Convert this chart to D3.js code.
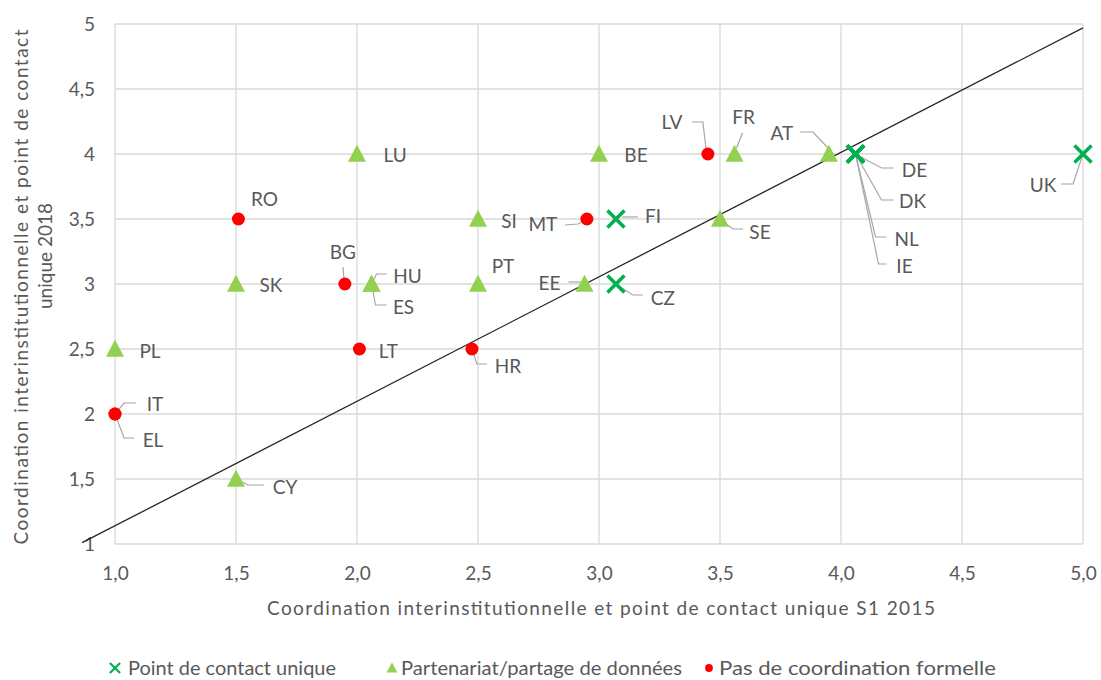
<!DOCTYPE html>
<html><head><meta charset="utf-8">
<script src="https://cdn.jsdelivr.net/npm/d3@7"></script>
<style>body{margin:0;background:#fff}svg{display:block}text{font-family:Lato,"Open Sans",sans-serif;fill:#595959}</style>
</head><body><svg id="c" width="1101" height="680"></svg>
<script>
// ---- data ----
const xTicks = [1.0,1.5,2.0,2.5,3.0,3.5,4.0,4.5,5.0];
const yTicks = [1,1.5,2,2.5,3,3.5,4,4.5,5];
const seriesNames = ["Point de contact unique","Partenariat/partage de données","Pas de coordination formelle"];
const contactCodes = ["FI","CZ","DE","DK","NL","IE","UK"];
const contactX     = [3.07,3.07,4.06,4.06,4.06,4.06,5.0];
const contactY     = [3.5,3.0,4.0,4.0,4.0,4.0,4.0];
const partnerCodes = ["LU","BE","FR","AT","SI","SE","SK","HU","ES","PT","EE","PL","CY"];
const partnerX     = [2.0,3.0,3.56,3.95,2.5,3.5,1.5,2.06,2.06,2.5,2.94,1.0,1.5];
const partnerY     = [4.0,4.0,4.0,4.0,3.5,3.5,3.0,3.0,3.0,3.0,3.0,2.5,1.5];
const noneCodes    = ["RO","BG","LT","HR","MT","LV","IT","EL"];
const noneX        = [1.51,1.95,2.01,2.475,2.95,3.45,1.0,1.0];
const noneY        = [3.5,3.0,2.5,2.5,3.5,4.0,2.0,2.0];
const trendX = [0.864,5.0];
const trendY = [1.01,4.97];
const xTitle = "Coordination interinstitutionnelle et point de contact unique S1 2015";
const yTitle = ["Coordination interinstitutionnelle et point de contact","unique 2018"];

// ---- layout (label offsets in px relative to marker) ----
const labelLayout = {
 LU:{d:[38,1]}, BE:{d:[37,1]}, SI:{d:[31,2]},
 MT:{d:[-44,5],l:[[-22,6],[-9,5],[-3,2]]},
 FI:{d:[37,-3],l:[[6,-2],[22,-2]]},
 CZ:{d:[47,14],l:[[0,0],[17,11],[27,11]]},
 EE:{d:[-35,-1],l:[[-16,-2],[-4,-2]]},
 SE:{d:[40,13],l:[[2,2],[13,10],[23,10]]},
 LV:{d:[-36,-32],l:[[-16,-32],[-5,-32],[-2,-6]]},
 FR:{d:[9,-37],l:[[8,-21],[2,-6]]},
 AT:{d:[-47,-21],l:[[-29,-22],[-16,-22],[0,-5]]},
 DE:{d:[59,16],l:[[0,0],[26,14],[38,14]]},
 DK:{d:[57,47],l:[[0,0],[26,46],[38,46]]},
 NL:{d:[51,85],l:[[0,0],[20,83],[31,83]]},
 IE:{d:[49,112],l:[[0,0],[23,110],[31,110]]},
 UK:{d:[-40,31],l:[[0,0],[-10,30],[-22,30]]},
 RO:{d:[26,-20]}, SK:{d:[35,1]},
 BG:{d:[-2,-32],l:[[-2,-17],[-1,-6]]},
 HU:{d:[36,-8],l:[[0,0],[5,-10],[15,-10]]},
 ES:{d:[32,23],l:[[0,0],[4,21],[15,21]]},
 PT:{d:[25,-18]}, PL:{d:[35,2]}, LT:{d:[29,2]},
 HR:{d:[36,17],l:[[0,0],[5,15],[15,15]]},
 IT:{d:[40,-10],l:[[0,0],[9,-11],[21,-11]]},
 EL:{d:[38,26],l:[[0,0],[9,24],[19,24]]},
 CY:{d:[49,8],l:[[4,2],[12,6],[28,6]]}
};
const colContact="#00b050", colPartner="#92d050", colNone="#ff0000";
const FS = 19;

const svg = d3.select("#c");
const x = d3.scaleLinear().domain([1,5]).range([115,1083]);
const y = d3.scaleLinear().domain([1,5]).range([544,24]);
const fmtX = v => d3.format(".1f")(v).replace(".",",");
const fmtY = v => String(v).replace(".",",");

// grid
const g = svg.append("g");
g.selectAll(".gx").data(xTicks).join("line").attr("x1",d=>x(d)).attr("x2",d=>x(d)).attr("y1",y(1)).attr("y2",y(5)).attr("stroke","#d9d9d9").attr("stroke-width",1.3);
g.selectAll(".gy").data(yTicks).join("line").attr("y1",d=>y(d)).attr("y2",d=>y(d)).attr("x1",x(1)).attr("x2",x(5)).attr("stroke","#d9d9d9").attr("stroke-width",1.3);

// axes via d3
const ax = svg.append("g").attr("transform",`translate(0,${y(1)})`).call(d3.axisBottom(x).tickValues(xTicks).tickFormat(fmtX).tickSize(0).tickPadding(23));
ax.select(".domain").remove();
ax.selectAll("text").attr("font-size",FS).attr("font-family","Lato").attr("fill","#595959");
const ay = svg.append("g").attr("transform",`translate(${x(1)},0)`).call(d3.axisLeft(y).tickValues(yTicks).tickFormat(fmtY).tickSize(0).tickPadding(20));
ay.select(".domain").remove();
ay.selectAll("text").attr("font-size",FS).attr("font-family","Lato").attr("fill","#595959");

// titles
svg.append("text").attr("x",601).attr("y",615).attr("text-anchor","middle").attr("font-size",FS)
  .attr("textLength",668).attr("lengthAdjust","spacing").text(xTitle);
const yLens=[515,66];
yTitle.forEach((t,i)=>{
  svg.append("text").attr("transform",`translate(${28+i*24},${i===0?287:256}) rotate(-90)`).attr("text-anchor","middle").attr("font-size",FS)
    .attr("textLength",i===0?515:null).attr("lengthAdjust","spacing").text(t);
});

// trend line
svg.append("line").attr("x1",x(trendX[0])).attr("y1",y(trendY[0])).attr("x2",x(trendX[1])).attr("y2",y(trendY[1])).attr("stroke","#262626").attr("stroke-width",1.3);

// build points
const pts = [];
contactCodes.forEach((c,i)=>pts.push({c,x:contactX[i],y:contactY[i],s:0}));
partnerCodes.forEach((c,i)=>pts.push({c,x:partnerX[i],y:partnerY[i],s:1}));
noneCodes.forEach((c,i)=>pts.push({c,x:noneX[i],y:noneY[i],s:2}));

// leader lines
const lg = svg.append("g");
pts.forEach(p=>{
  const L = labelLayout[p.c];
  if(L && L.l){
    const px=x(p.x), py=y(p.y);
    lg.append("path").attr("d",d3.line()(L.l.map(q=>[px+q[0],py+q[1]]))).attr("fill","none").attr("stroke","#a6a6a6").attr("stroke-width",1.2);
  }
});

function drawMarker(sel, s, px, py, scale){
  scale = scale||1;
  if(s===0){
    const h=8.5*scale;
    sel.append("path").attr("d",`M${px-h},${py-h}L${px+h},${py+h}M${px-h},${py+h}L${px+h},${py-h}`).attr("stroke",colContact).attr("stroke-width",3.6*scale).attr("fill","none");
  } else if(s===1){
    const w=9*scale, hh=17*scale;
    sel.append("path").attr("d",`M${px},${py-hh*0.55}L${px+w},${py+hh*0.45}L${px-w},${py+hh*0.45}Z`).attr("fill",colPartner);
  } else {
    sel.append("circle").attr("cx",px).attr("cy",py).attr("r",6.5*scale).attr("fill",colNone);
  }
}
const mg = svg.append("g");
pts.forEach(p=>drawMarker(mg,p.s,x(p.x),y(p.y)));

// labels
const tg = svg.append("g");
pts.forEach(p=>{
  const L = labelLayout[p.c];
  tg.append("text").attr("x",x(p.x)+L.d[0]).attr("y",y(p.y)+L.d[1]).attr("dy","0.36em").attr("text-anchor","middle").attr("font-size",FS).text(p.c);
});

// legend
const legX=[115,392,709], legTX=[128,401,719], legLen=[208,281,277];
seriesNames.forEach((n,i)=>{
  drawMarker(svg,i,legX[i],668,0.6);
  svg.append("text").attr("x",legTX[i]).attr("y",668).attr("dy","0.36em").attr("font-size",FS)
    .attr("textLength",legLen[i]).attr("lengthAdjust","spacingAndGlyphs").text(n);
});
</script></body></html>
